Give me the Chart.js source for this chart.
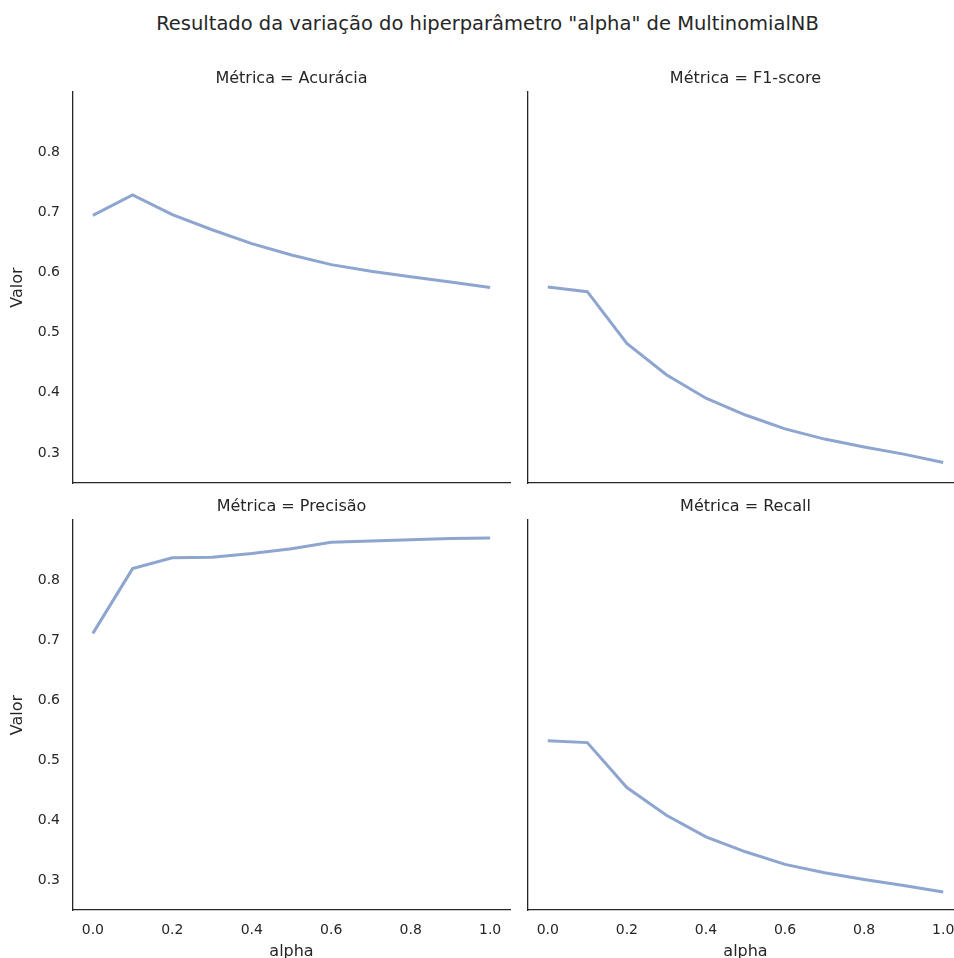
<!DOCTYPE html>
<html>
<head>
<meta charset="utf-8">
<script src="https://cdn.jsdelivr.net/npm/chart.js@4"></script>
<style>
  html, body { margin: 0; padding: 0; background: #fff; overflow: hidden; }
  body { width: 954px; height: 958px; position: relative; }
  #title {
    position: absolute; left: 0; top: 12px; width: 975px; text-align: center;
    font-family: "DejaVu Sans", sans-serif; font-size: 19.5px; line-height: 1.2; color: #262626;
    white-space: nowrap;
  }
  .panel { position: absolute; }
</style>
</head>
<body>
<div id="title">Resultado da variação do hiperparâmetro "alpha" de MultinomialNB</div>
<div class="panel" style="left:0;top:60px;width:520px;height:440px"><canvas id="c0"></canvas></div>
<div class="panel" style="left:520px;top:60px;width:450px;height:440px"><canvas id="c1"></canvas></div>
<div class="panel" style="left:0;top:490px;width:520px;height:475px"><canvas id="c2"></canvas></div>
<div class="panel" style="left:520px;top:490px;width:450px;height:475px"><canvas id="c3"></canvas></div>
<script>
// valores
const alphas = [0.0, 0.1, 0.2, 0.3, 0.4, 0.5, 0.6, 0.7, 0.8, 0.9, 1.0];
const acuracia = [0.695, 0.729, 0.696, 0.671, 0.648, 0.629, 0.613, 0.602, 0.593, 0.584, 0.575];
const f1score  = [0.576, 0.568, 0.482, 0.430, 0.391, 0.363, 0.340, 0.323, 0.310, 0.298, 0.284];
const precisao = [0.711, 0.819, 0.837, 0.838, 0.844, 0.852, 0.863, 0.865, 0.867, 0.869, 0.870];
const recall   = [0.532, 0.529, 0.454, 0.408, 0.372, 0.347, 0.326, 0.312, 0.301, 0.291, 0.280];
const metricas = ['Acurácia', 'F1-score', 'Precisão', 'Recall'];
const yTicks = [0.3, 0.4, 0.5, 0.6, 0.7, 0.8];
const xTicks = [0.0, 0.2, 0.4, 0.6, 0.8, 1.0];

const FONT = '"DejaVu Sans", sans-serif';
const TXT = '#262626';
const LINE = '#8ea5cf';

function makePanel(id, name, values, showY, showX) {
    const ctx = document.getElementById(id);
    return new Chart(ctx, {
        type: 'line',
        data: {
            datasets: [{
                data: alphas.map((a, i) => ({ x: a, y: values[i] })),
                borderColor: LINE,
                borderWidth: 3,
                pointRadius: 0,
                fill: false,
                tension: 0,
            }]
        },
        options: {
            responsive: true,
            maintainAspectRatio: false,
            animation: false,
            layout: { padding: { top: 0, right: showY ? 10 : 7, bottom: 0, left: 0 } },
            plugins: {
                legend: { display: false },
                tooltip: { enabled: false },
            },
            scales: {
                // eixo de cima só para o título do painel (centrado no eixo)
                top: {
                    type: 'linear',
                    position: 'top',
                    min: -0.05,
                    max: 1.05,
                    afterFit: s => {
                        s.height = showX ? 30 : 32;
                        s.paddingLeft = 0;
                        s.paddingRight = 0;
                    },
                    grid: { display: false, drawTicks: false },
                    border: { display: false },
                    ticks: { display: false },
                    title: {
                        display: true,
                        text: 'Métrica = ' + name,
                        color: TXT,
                        font: { family: FONT, size: 16, lineHeight: 1.2 },
                        padding: { top: showX ? 7.4 : 9, bottom: 0 },
                    },
                },
                x: {
                    type: 'linear',
                    min: -0.05,
                    max: 1.05,
                    afterBuildTicks: s => { s.ticks = xTicks.map(v => ({ value: v })); },
                    afterFit: s => {
                        s.height = showX ? 55 : 17;
                        s.paddingLeft = 0;
                        s.paddingRight = 0;
                    },
                    grid: { display: false, drawTicks: false },
                    border: { display: true, color: '#262626', width: 1.3 },
                    ticks: {
                        display: showX,
                        color: TXT,
                        padding: 11.6,
                        font: { family: FONT, size: 14, lineHeight: 1.2 },
                        callback: v => v.toFixed(1),
                    },
                    title: {
                        display: showX,
                        text: 'alpha',
                        color: TXT,
                        font: { family: FONT, size: 16, lineHeight: 1.2 },
                        padding: { top: 2, bottom: 3.4 },
                    },
                },
                y: {
                    type: 'linear',
                    min: 0.25,
                    max: 0.9,
                    afterBuildTicks: s => { s.ticks = yTicks.map(v => ({ value: v })); },
                    afterFit: s => {
                        s.width = showY ? 73 : 8;
                        s.paddingTop = 0;
                        s.paddingBottom = 0;
                    },
                    grid: { display: false, drawTicks: false },
                    border: { display: true, color: '#262626', width: 1.3 },
                    ticks: {
                        display: showY,
                        color: TXT,
                        padding: 13,
                        font: { family: FONT, size: 14, lineHeight: 1.2 },
                        callback: v => v.toFixed(1),
                    },
                    title: {
                        display: showY,
                        text: 'Valor',
                        color: TXT,
                        font: { family: FONT, size: 16, lineHeight: 1.2 },
                        padding: { top: 8.4, bottom: 4 },
                    },
                },
            },
        },
    });
}

makePanel('c0', metricas[0], acuracia, true, false);
makePanel('c1', metricas[1], f1score, false, false);
makePanel('c2', metricas[2], precisao, true, true);
makePanel('c3', metricas[3], recall, false, true);
</script>
</body>
</html>
